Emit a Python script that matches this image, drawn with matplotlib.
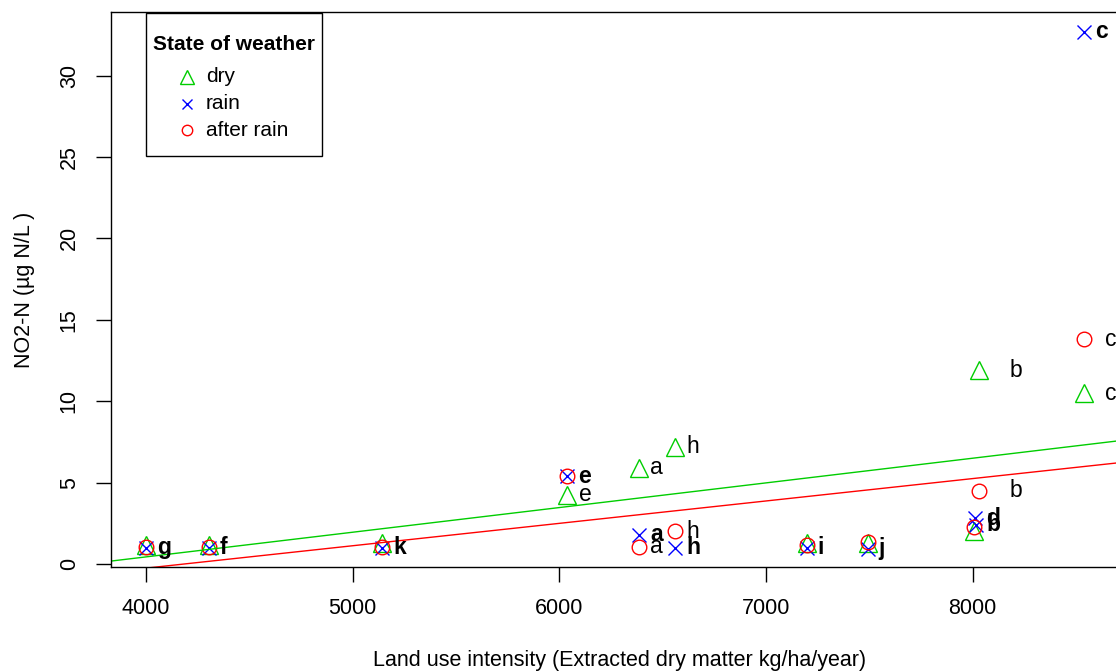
import matplotlib
matplotlib.use("Agg")
import matplotlib.pyplot as plt
from matplotlib.patches import Rectangle
from matplotlib.lines import Line2D

plt.rcParams["font.family"] = ["Liberation Sans", "DejaVu Sans"]

W, H = 1116, 671

GREEN = "#00CD00"
BLUE = "#0000FF"
RED = "#FF0000"

# site letters, land use intensity and NO2-N per weather state
dry_x = [4000, 4305, 5143, 6039, 6387, 6562, 7196, 7491, 8005, 8029, 8537]
dry_y = [1.2, 1.2, 1.3, 4.25, 5.9, 7.2, 1.3, 1.3, 2.0, 11.9, 10.5]
dry_lab = ["", "", "", "e", "a", "h", "", "", "", "b", "c"]

rain_x = [4000, 4305, 5143, 6039, 6387, 6562, 7196, 7491, 8010, 8015, 8537]
rain_y = [1.0, 1.0, 1.0, 5.4, 1.8, 1.0, 1.0, 0.95, 2.8, 2.4, 32.7]
rain_lab = ["g", "f", "k", "e", "a", "h", "i", "j", "d", "b", "c"]

after_x = [4000, 4305, 5143, 6039, 6387, 6562, 7196, 7491, 8005, 8029, 8537]
after_y = [1.05, 1.05, 1.05, 5.4, 1.05, 2.0, 1.2, 1.35, 2.3, 4.5, 13.8]
after_lab = ["", "", "", "", "a", "h", "", "", "", "b", "c"]

# fitted lines (intercept, slope) for dry and after rain
dry_fit = (-5.62, 0.001515)
after_fit = (-5.75, 0.001375)

fig = plt.figure(figsize=(W / 100, H / 100), dpi=100)
ax = fig.add_axes([111 / W, 1 - 567 / H, 1.01 - 111 / W, (567 - 12) / H])

xmin = 3831
xmax = xmin + (1.01 * W - 111) / 0.2067
ax.set_xlim(xmin, xmax)
ax.set_ylim(-0.18, 33.9)

ax.plot(dry_x, dry_y, "^", ms=13, mfc="none", mec=GREEN, mew=1.0, ls="none")
ax.plot(rain_x, rain_y, "x", ms=10, mec=BLUE, mew=1.0, ls="none")
ax.plot(after_x, after_y, "o", ms=10.5, mfc="none", mec=RED, mew=1.0, ls="none")

for fit, col in [(dry_fit, GREEN), (after_fit, RED)]:
    xs = [xmin, xmax]
    ax.plot(xs, [fit[0] + fit[1] * v for v in xs], color=col, lw=1.0)

def put_labels(xs, ys, labs, bold, far=None):
    far = far or {}
    for x, y, lab in zip(xs, ys, labs):
        if not lab:
            continue
        off = 8 + far.get(lab, 0)
        ax.annotate(lab, (x, y), xytext=(off, 0), textcoords="offset points",
                    ha="left", va="center", fontsize=16.5,
                    fontweight="bold" if bold else "normal")

put_labels(dry_x, dry_y, dry_lab, False, {"b": 14, "c": 7})
put_labels(after_x, after_y, after_lab, False, {"b": 14, "c": 7})
put_labels(rain_x, rain_y, rain_lab, True)

ax.set_xticks([4000, 5000, 6000, 7000, 8000])
ax.set_yticks([0, 5, 10, 15, 20, 25, 30])
ax.tick_params(length=10.5, width=1.0, labelsize=15.5, pad=12)
for t in ax.get_yticklabels():
    t.set_rotation(90)
    t.set_va("center")
for s in ax.spines.values():
    s.set_linewidth(1.0)

ax.set_xlabel("Land use intensity (Extracted dry matter kg/ha/year)", fontsize=15.5, labelpad=22)
ax.set_ylabel("NO2-N (µg N/L )", fontsize=15.5, labelpad=17)

# legend box drawn in figure pixels
def fxy(px, py):
    return px / W, 1 - py / H

x0, y0 = fxy(146, 156)
x1, y1 = fxy(322, 13)
fig.add_artist(Rectangle((x0, y0), x1 - x0, y1 - y0, transform=fig.transFigure,
                         fill=False, ec="black", lw=1.0))
fig.text(*fxy(234, 45), "State of weather", fontsize=15, fontweight="bold",
         ha="center", va="center")
entries = [("dry", "^", GREEN, 9.5), ("rain", "x", BLUE, 7.5), ("after rain", "o", RED, 7.5)]
for i, (name, mk, col, ms) in enumerate(entries):
    py = 77 + 26.5 * i
    fig.add_artist(Line2D([fxy(187, py)[0]], [fxy(187, py)[1]], transform=fig.transFigure,
                          marker=mk, ms=ms, mfc="none", mec=col, mew=1.0, ls="none"))
    fig.text(*fxy(206, py), name, fontsize=15, ha="left", va="center")

fig.savefig("out.png", dpi=100)
